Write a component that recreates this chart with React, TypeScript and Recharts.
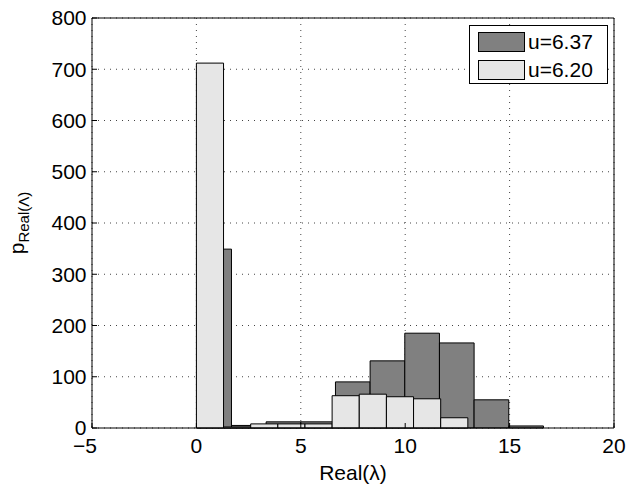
import React from 'react';
import {
  ComposedChart,
  XAxis,
  YAxis,
  CartesianGrid,
  ReferenceArea,
  Legend,
  Label,
  Text,
} from 'recharts';

// ---------- data ----------
const xTicks = [-5, 0, 5, 10, 15, 20];
const yTicks = [0, 100, 200, 300, 400, 500, 600, 700, 800];

// u=6.37 histogram (bin edges and counts)
const darkEdges = [0.02, 1.68, 3.34, 5.0, 6.66, 8.32, 9.98, 11.64, 13.3, 14.96, 16.62];
const darkCounts = [349, 5, 12, 12, 90, 131, 185, 166, 55, 4];

// u=6.20 histogram (bin edges and counts)
const lightEdges = [0, 1.3, 2.6, 3.9, 5.2, 6.5, 7.8, 9.1, 10.4, 11.7, 13.0];
const lightCounts = [712, 2, 8, 8, 8, 63, 66, 61, 57, 20];

const seriesNames = ['u=6.37', 'u=6.20'];
const seriesColors = ['#808080', '#e6e6e6'];

// ---------- helpers ----------
const makeBins = (edges: number[], counts: number[]) =>
  counts.map((c, i) => ({ x1: edges[i], x2: edges[i + 1], count: c }));

const darkBins = makeBins(darkEdges, darkCounts);
const lightBins = makeBins(lightEdges, lightCounts);
const chartData = darkBins.map((b) => ({ x: (b.x1 + b.x2) / 2, y: b.count }));

const FONT = '"Liberation Sans", Arial, Helvetica, sans-serif';
const FS = 21;

const XTick = (props: any) => {
  const { x, y, payload } = props;
  const v = payload.value as number;
  const label = v < 0 ? `\u2212${Math.abs(v)}` : `${v}`;
  return (
    <Text
      x={x + (v < 0 ? -7 : 0)}
      y={y}
      textAnchor="middle"
      verticalAnchor="start"
      fill="#000"
      fontSize={FS}
      fontFamily={FONT}
    >
      {label}
    </Text>
  );
};

const YLabel = (props: any) => {
  const vb = props.viewBox || { x: 0, y: 18, width: 92, height: 410 };
  const cx = vb.x + 24;
  const cy = vb.y + vb.height / 2;
  return (
    <text
      x={cx}
      y={cy}
      transform={`rotate(-90 ${cx} ${cy})`}
      textAnchor="middle"
      fontFamily={FONT}
      fontSize={FS}
      fill="#000"
    >
      <tspan>p</tspan>
      <tspan fontSize={15} dy={5}>
        Real(Λ)
      </tspan>
    </text>
  );
};

const LegendBox = () => (
  <div
    style={{
      position: 'relative',
      width: 139,
      height: 59,
      boxSizing: 'border-box',
      border: '1px solid #000',
      background: '#fff',
      fontFamily: FONT,
      fontSize: FS,
      color: '#000',
    }}
  >
    {seriesNames.map((name, i) => (
      <div key={name}>
        <div
          style={{
            position: 'absolute',
            left: 8,
            top: 6 + i * 27.6,
            width: 47,
            height: 20,
            boxSizing: 'border-box',
            border: '1px solid #000',
            background: seriesColors[i],
          }}
        />
        <div
          style={{
            position: 'absolute',
            left: 58,
            top: 3 + i * 27.6,
            lineHeight: '26px',
            whiteSpace: 'nowrap',
          }}
        >
          {name}
        </div>
      </div>
    ))}
  </div>
);

export default function App() {
  return (
    <div style={{ width: 627, height: 485, position: 'relative', background: '#fff' }}>
      <style>{'body{margin:0;background:#fff;}'}</style>
      <ComposedChart
        width={627}
        height={485}
        data={chartData}
        margin={{ top: 0, right: 0, bottom: 0, left: 0 }}
      >
        <CartesianGrid
          xAxisId="bottom"
          yAxisId="left"
          stroke="#444"
          strokeDasharray="1 5"
          strokeWidth={1}
        />
        <XAxis
          xAxisId="bottom"
          dataKey="x"
          type="number"
          orientation="bottom"
          domain={[-5, 20]}
          ticks={xTicks}
          height={57}
          allowDataOverflow
          tickSize={-5}
          tickMargin={15}
          axisLine={{ stroke: '#000', strokeWidth: 1 }}
          tickLine={{ stroke: '#000', strokeWidth: 1 }}
          tick={<XTick />}
        >
          <Label
            value="Real(λ)"
            position="insideBottom"
            offset={5}
            fill="#000"
            fontSize={FS}
            fontFamily={FONT}
          />
        </XAxis>
        <XAxis
          xAxisId="top"
          dataKey="x"
          type="number"
          orientation="top"
          domain={[-5, 20]}
          ticks={xTicks}
          height={18}
          allowDataOverflow
          tickSize={-5}
          axisLine={{ stroke: '#000', strokeWidth: 1 }}
          tickLine={{ stroke: '#000', strokeWidth: 1 }}
          tick={false}
        />
        <YAxis
          yAxisId="left"
          type="number"
          orientation="left"
          domain={[0, 800]}
          ticks={yTicks}
          width={92}
          allowDataOverflow
          tickSize={-5}
          tickMargin={10.5}
          axisLine={{ stroke: '#000', strokeWidth: 1 }}
          tickLine={{ stroke: '#000', strokeWidth: 1 }}
          tick={{ fill: '#000', fontSize: FS, fontFamily: FONT }}
          label={<Label content={YLabel} />}
        />
        <YAxis
          yAxisId="right"
          type="number"
          orientation="right"
          domain={[0, 800]}
          ticks={yTicks}
          width={13}
          allowDataOverflow
          tickSize={-5}
          axisLine={{ stroke: '#000', strokeWidth: 1 }}
          tickLine={{ stroke: '#000', strokeWidth: 1 }}
          tick={false}
        />
        {darkBins.map((b, i) => (
          <ReferenceArea
            key={`d${i}`}
            xAxisId="bottom"
            yAxisId="left"
            x1={b.x1}
            x2={b.x2}
            y1={0}
            y2={b.count}
            fill={seriesColors[0]}
            fillOpacity={1}
            stroke="#000"
            strokeWidth={1}
            ifOverflow="visible"
          />
        ))}
        {lightBins.map((b, i) => (
          <ReferenceArea
            key={`l${i}`}
            xAxisId="bottom"
            yAxisId="left"
            x1={b.x1}
            x2={b.x2}
            y1={0}
            y2={b.count}
            fill={seriesColors[1]}
            fillOpacity={1}
            stroke="#000"
            strokeWidth={1}
            ifOverflow="visible"
          />
        ))}
        <Legend
          layout="vertical"
          align="center"
          verticalAlign="middle"
          content={() => <LegendBox />}
          wrapperStyle={{ left: 469, top: 25, width: 139, height: 59, bottom: 'auto', right: 'auto' }}
        />
      </ComposedChart>
    </div>
  );
}
